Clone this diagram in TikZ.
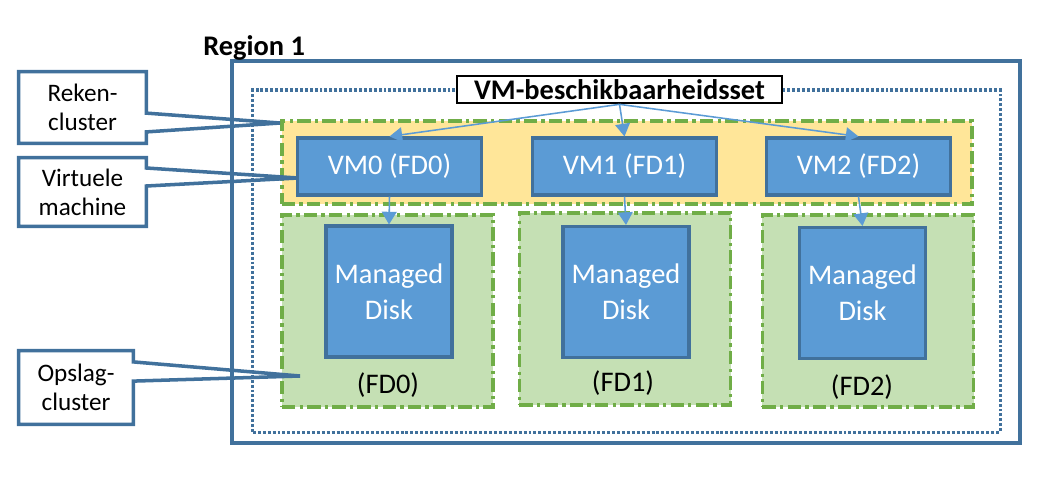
\documentclass[tikz,border=0pt]{standalone}
\usepackage{fontspec}
\setmainfont{Carlito}
\usepackage{tikz}
\usetikzlibrary{shapes,arrows,arrows.meta,positioning}
\definecolor{vmblue}{HTML}{5B9BD5}
\definecolor{vmedge}{HTML}{41719C}
\definecolor{rkyellow}{HTML}{FFE699}
\definecolor{opgreen}{HTML}{C5E0B4}
\definecolor{fdedge}{HTML}{70AD47}
\newcommand{\grootfont}{\fontsize{20.2}{25.5}\selectfont}
\newcommand{\titelfont}{\fontsize{20.2}{24}\selectfont\bfseries}
\newcommand{\kleinfont}{\fontsize{17.9}{20.6}\selectfont}
\tikzstyle{regio} = [draw=vmedge, line width=2.5pt, minimum width=19.7cm, minimum height=9.55cm, inner sep=0]
\tikzstyle{setrand} = [draw=vmedge, line width=2.2pt, dash pattern=on 2.1pt off 1.4pt, minimum width=18.675cm, minimum height=8.55cm, inner sep=0]
\tikzstyle{setlabel} = [draw=black, fill=white, line width=1.9pt, font=\titelfont, minimum width=8.125cm, minimum height=0.675cm, inner sep=0]
\tikzstyle{fdrand} = [draw=fdedge, line width=2.6pt, dash pattern=on 9.5pt off 3pt on 2.4pt off 3pt, inner sep=0]
\tikzstyle{rekenveld} = [fdrand, fill=rkyellow, minimum width=17.25cm, minimum height=2.075cm]
\tikzstyle{fdveld} = [fdrand, fill=opgreen, minimum width=5.275cm, minimum height=4.8cm]
\tikzstyle{vmbox} = [draw=vmedge, fill=vmblue, line width=2.2pt, text=white, font=\grootfont, minimum width=4.6cm, minimum height=1.425cm, inner sep=0]
\tikzstyle{diskbox} = [draw=vmedge, fill=vmblue, line width=2.2pt, text=white, font=\grootfont, align=center, minimum width=3.15cm, minimum height=3.275cm, inner sep=0]
\tikzstyle{fdlabel} = [font=\grootfont, inner sep=0]
\tikzstyle{pijl} = [draw=vmblue, line width=1.1pt, -{Triangle[length=9pt, width=10.5pt]}]
\tikzstyle{callouttext} = [font=\kleinfont, align=center, minimum width=3.175cm, minimum height=1.775cm, inner sep=0]
\tikzstyle{callout} = [draw=vmedge, line width=2.5pt]

\begin{document}
\begin{tikzpicture}[x=0.025cm, y=-0.025cm]
	\useasboundingbox (0,0) rectangle (1058,482);
	\node [regio] (regio) at (626, 252) {};
	\node [font=\titelfont, anchor=base west, inner sep=0] (regiolabel) at (203, 55) {Region 1};
	\node [setrand] (set) at (626.5, 261) {};
	\node [setlabel] (vmset) at (619.5, 89.5) {VM-beschikbaarheidsset};

	\node [rekenveld] (reken) at (627, 162.5) {};
	\node [fdveld] (fd0) at (387.5, 311) {};
	\node [fdveld] (fd1) at (625, 309) {};
	\node [fdveld] (fd2) at (868, 311) {};

	\node [vmbox] (vm0) at (389.5, 166.5) {VM0 (FD0)};
	\node [vmbox] (vm1) at (624.5, 166.5) {VM1 (FD1)};
	\node [vmbox] (vm2) at (858.5, 166.5) {VM2 (FD2)};

	\node [diskbox] (disk0) at (389, 291.5) {Managed\\Disk};
	\node [diskbox] (disk1) at (626, 292) {Managed\\Disk};
	\node [diskbox] (disk2) at (862.5, 293) {Managed\\Disk};

	\node [fdlabel] (fdlabel0) at (388, 385) {(FD0)};
	\node [fdlabel] (fdlabel1) at (623, 383) {(FD1)};
	\node [fdlabel] (fdlabel2) at (862, 387) {(FD2)};

	\path [pijl] (vmset.south) -- (vm0.north);
	\path [pijl] (vmset.south) -- (vm1.north);
	\path [pijl] (vmset.south) -- (vm2.north);
	\path [pijl] (vm0.south) -- (disk0.north);
	\path [pijl] (vm1.south) -- (disk1.north);
	\path [pijl] (vm2.south) -- (disk2.north);

	\node [callouttext] (rekenlabel) at (82.5, 107.5) {Reken-\\cluster};
	\node [callouttext, minimum height=1.7cm] (vmlabel) at (82.5, 192) {Virtuele\\machine};
	\node [callouttext, minimum width=2.85cm, minimum height=1.825cm] (opslaglabel) at (76, 387.5) {Opslag-\\cluster};
	\coordinate (rekentip) at (280, 123);
	\coordinate (vmtip) at (298, 178);
	\coordinate (opslagtip) at (300, 376);

	\path [callout] (rekenlabel.north west) -- (rekenlabel.north east) -- ([yshift=-0.14cm]rekenlabel.east) -- (rekentip) -- ([yshift=-0.61cm]rekenlabel.east) -- (rekenlabel.south east) -- (rekenlabel.south west) -- cycle;
	\path [callout] (vmlabel.north west) -- (vmlabel.north east) -- ([yshift=0.6cm]vmlabel.east) -- (vmtip) -- ([yshift=0.15cm]vmlabel.east) -- (vmlabel.south east) -- (vmlabel.south west) -- cycle;
	\path [callout] (opslaglabel.north west) -- (opslaglabel.north east) -- ([yshift=0.64cm]opslaglabel.east) -- (opslagtip) -- ([yshift=0.16cm]opslaglabel.east) -- (opslaglabel.south east) -- (opslaglabel.south west) -- cycle;
\end{tikzpicture}
\end{document}
